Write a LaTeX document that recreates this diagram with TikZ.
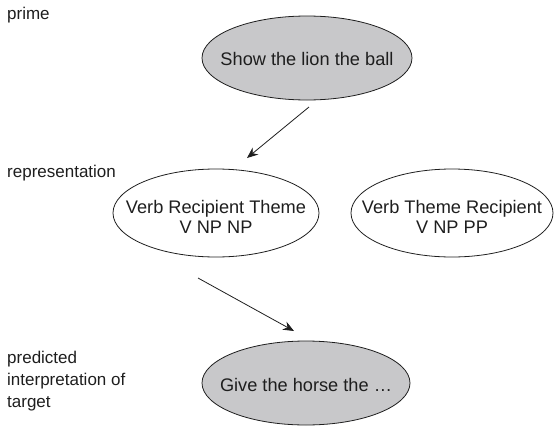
\documentclass[tikz,border=0pt]{standalone}
\usepackage{fontspec}
\setmainfont{Liberation Sans}
\usetikzlibrary{arrows.meta,shapes.geometric}
\definecolor{ellfill}{RGB}{200,200,202}
\definecolor{ink}{RGB}{30,30,30}
\begin{document}
\begin{tikzpicture}[x=1pt,y=-1pt,
  lbl/.style={anchor=base west,inner sep=0pt,text=ink,font=\fontsize{17}{22}\selectfont,align=left},
  ell/.style={ellipse,draw=ink,line width=0.8pt,inner sep=0pt,minimum width=#1},
  grayell/.style={ell=#1,fill=ellfill},
  etext/.style={text=ink,font=\fontsize{18.2}{20}\selectfont,align=center},
  arr/.style={draw=ink,line width=0.8pt,-{Stealth[length=11pt,width=9pt]}}]
\useasboundingbox (0,0) rectangle (555,426);
% left labels
\node[lbl] (lprime) at (7,19) {prime};
\node[lbl] (lrep) at (7,177) {representation};
\node[lbl,anchor=north west] (lpred) at (7,351) {predicted\\interpretation of\\target};
% ellipses
\node[grayell=210pt,minimum height=84pt] (prime) at (307,58) {};
\node[etext] at ([yshift=-1pt]prime.center) {Show the lion the ball};
\node[ell=206pt,minimum height=88pt] (repA) at (216,213) {};
\node[etext] at ([yshift=-4pt]repA.center) {Verb Recipient Theme\\V NP NP};
\node[ell=202pt,minimum height=88pt] (repB) at (452,213) {};
\node[etext] at ([yshift=-4pt]repB.center) {Verb Theme Recipient\\V NP PP};
\node[grayell=208pt,minimum height=84pt] (target) at (306,383) {};
\node[etext] at ([yshift=-2pt]target.center) {Give the horse the \dots};
% arrows
\coordinate (a1s) at (309,107);
\coordinate (a1e) at (247,158);
\coordinate (a2s) at (198,278);
\coordinate (a2e) at (294,331);
\draw[arr] (a1s) -- (a1e);
\draw[arr] (a2s) -- (a2e);
\end{tikzpicture}
\end{document}
